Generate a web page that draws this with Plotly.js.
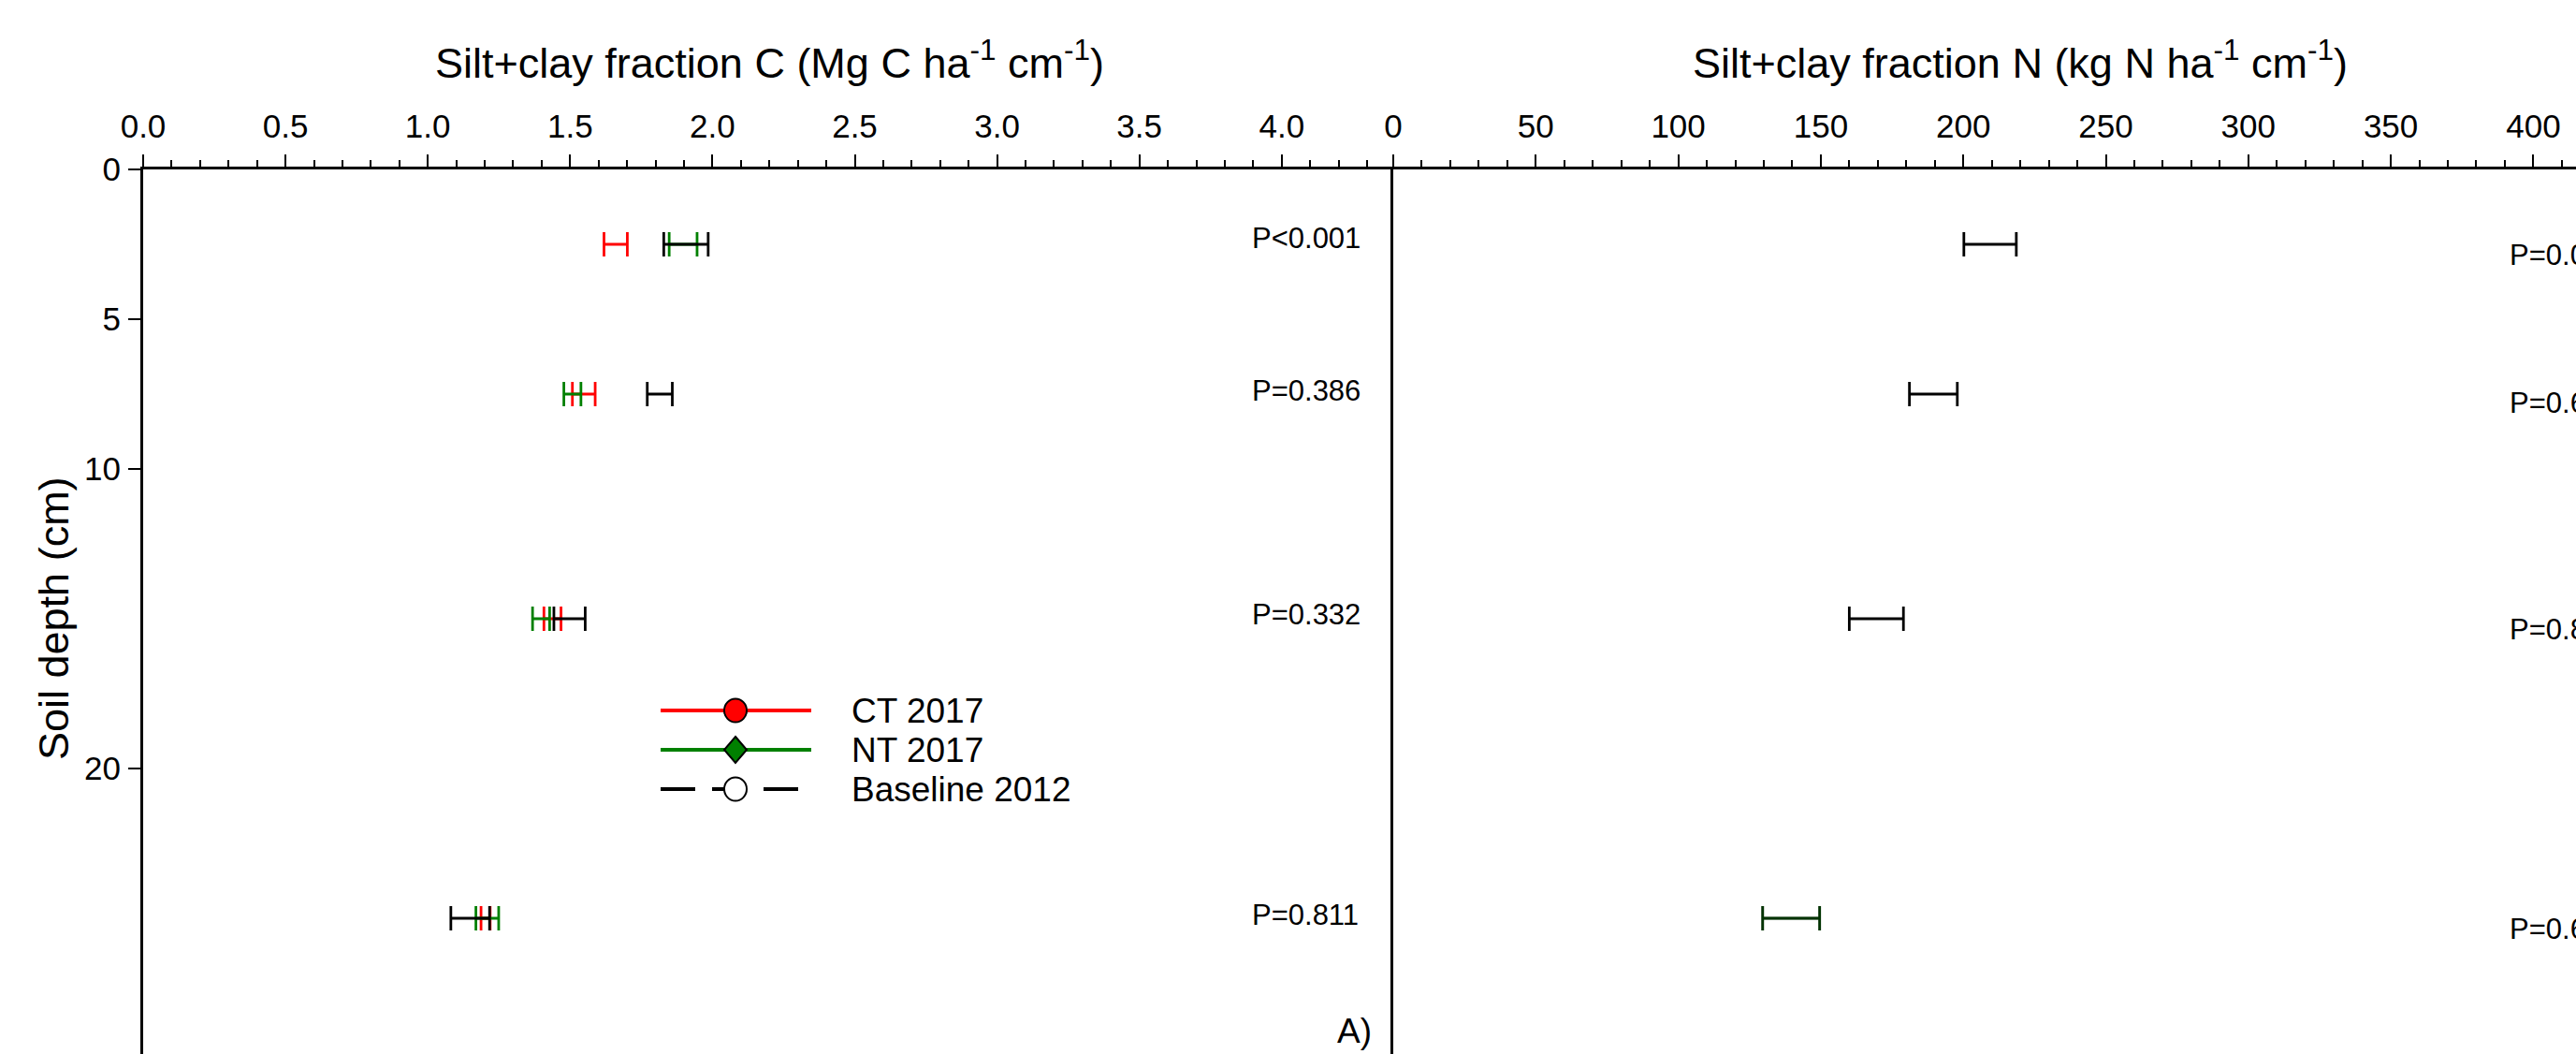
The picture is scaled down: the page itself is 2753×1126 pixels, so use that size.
<!DOCTYPE html>
<html>
<head>
<meta charset="utf-8">
<script src="https://cdn.plot.ly/plotly-3.0.1.min.js"></script>
<style>html,body{margin:0;padding:0;background:#fff;}#chart{width:2753px;height:1126px;}</style>
</head>
<body>
<div id="chart"></div>
<script>
// ---- data ----
const depths = [2.5, 7.5, 15, 25];

const ctC = [1.660, 1.548, 1.438, 1.203];
const ctCErr = [0.041, 0.040, 0.030, 0.016];
const ntC = [1.897, 1.508, 1.398, 1.209];
const ntCErr = [0.049, 0.030, 0.030, 0.040];
const baseC = [1.907, 1.815, 1.498, 1.149];
const baseCErr = [0.078, 0.044, 0.055, 0.068];

const baseN = [209.4, 189.5, 169.5, 139.6];
const baseNErr = [9.2, 8.4, 9.5, 10.0];
const ntN = [null, null, null, 139.6];
const ntNErr = [null, null, null, 10.0];

const pLabelsC = ["P<0.001", "P=0.386", "P=0.332", "P=0.811"];
const pDepthsC = [2.3, 7.4, 14.85, 24.9];
const pLabelsN = ["P=0.0", "P=0.6", "P=0.8", "P=0.6"];
const pDepthsN = [2.85, 7.8, 15.35, 25.35];

const xTicksC = [0, 0.5, 1, 1.5, 2, 2.5, 3, 3.5, 4];
const xTicksN = [0, 50, 100, 150, 200, 250, 300, 350, 400];
const yTicks = [0, 5, 10, 20];

const seriesNames = ["CT 2017", "NT 2017", "Baseline 2012"];
const RED = "rgb(255,0,0)", GREEN = "rgb(0,128,0)", BLACK = "rgb(0,0,0)";

const FONT = "Liberation Sans, Arial, Helvetica, sans-serif";

function ebTrace(x, err, color, xa, ya, name, opacity) {
  return {
    type: "scatter", mode: "markers", x: x, y: depths, name: name,
    xaxis: xa, yaxis: ya, showlegend: false, hoverinfo: "skip",
    opacity: opacity === undefined ? 1 : opacity,
    marker: {size: 2, color: "rgba(0,0,0,0)", line: {width: 0}},
    error_x: {type: "data", array: err, symmetric: true, visible: true,
              color: color, thickness: 2.8, width: 13}
  };
}

const traces = [
  ebTrace(ctC, ctCErr, RED, "x", "y", seriesNames[0]),
  ebTrace(ntC, ntCErr, GREEN, "x", "y", seriesNames[1]),
  ebTrace(baseC, baseCErr, BLACK, "x", "y", seriesNames[2]),
  ebTrace(baseN, baseNErr, BLACK, "x2", "y2", seriesNames[2]),
  ebTrace(ntN, ntNErr, GREEN, "x2", "y2", seriesNames[1], 0.4)
];

// pixel geometry of plot area
const W = 2753, H = 1126, L = 153, T = 181;
const PW = W - L, PH = H - T;
const splitPx = 1489;
const dSplit = (splitPx - L) / PW;
const px = v => (v - L) / PW;
const py = v => (H - v) / PH;

const xAxisCommon = {
  side: "top", showline: true, linewidth: 3, linecolor: BLACK, mirror: false,
  ticks: "outside", ticklen: 13, tickwidth: 2, tickcolor: BLACK,
  showgrid: false, zeroline: false, fixedrange: true,
  tickfont: {family: FONT, size: 35, color: BLACK},
  ticklabelstandoff: 4
};

const layout = {
  width: W, height: H,
  margin: {l: L, r: 0, t: T, b: 0, pad: 0},
  paper_bgcolor: "#fff", plot_bgcolor: "#fff",
  showlegend: false,
  font: {family: FONT, color: BLACK},
  xaxis: Object.assign({}, xAxisCommon, {
    domain: [0, dSplit], range: [0, (splitPx - L) / 304.2], anchor: "y",
    tickmode: "array", tickvals: xTicksC, ticktext: xTicksC.map(v => v.toFixed(1)),
    minor: {dtick: 0.1, tick0: 0, ticks: "outside", ticklen: 7, tickwidth: 2, tickcolor: BLACK}
  }),
  xaxis2: Object.assign({}, xAxisCommon, {
    domain: [dSplit, 1], range: [0, (W - splitPx) / 3.046], anchor: "y2",
    tickmode: "array", tickvals: xTicksN, ticktext: xTicksN.map(String),
    minor: {dtick: 10, tick0: 0, ticks: "outside", ticklen: 7, tickwidth: 2, tickcolor: BLACK}
  }),
  yaxis: {
    domain: [0, 1], range: [PH / 32, 0], anchor: "x",
    showline: true, linewidth: 3, linecolor: BLACK,
    ticks: "outside", ticklen: 13, tickwidth: 2, tickcolor: BLACK,
    tickmode: "array", tickvals: yTicks,
    showgrid: false, zeroline: false, fixedrange: true,
    tickfont: {family: FONT, size: 35, color: BLACK},
    ticklabelstandoff: 1
  },
  yaxis2: {
    domain: [0, 1], range: [PH / 32, 0], anchor: "x2",
    showline: true, linewidth: 3, linecolor: BLACK,
    ticks: "", showticklabels: false,
    showgrid: false, zeroline: false, fixedrange: true
  },
  annotations: [],
  shapes: []
};

const ann = layout.annotations;
ann.push({xref: "x", yref: "paper", x: 2.2, y: py(64), xanchor: "center", yanchor: "middle",
  text: "Silt+clay fraction C (Mg C ha<sup>-1</sup> cm<sup>-1</sup>)", showarrow: false,
  font: {family: FONT, size: 45, color: BLACK}});
ann.push({xref: "x2", yref: "paper", x: 220, y: py(64), xanchor: "center", yanchor: "middle",
  text: "Silt+clay fraction N (kg N ha<sup>-1</sup> cm<sup>-1</sup>)", showarrow: false,
  font: {family: FONT, size: 45, color: BLACK}});
ann.push({xref: "paper", yref: "paper", x: px(57), y: py(660), xanchor: "center", yanchor: "middle",
  text: "Soil depth (cm)", textangle: -90, showarrow: false,
  font: {family: FONT, size: 45, color: BLACK}});
pLabelsC.forEach((t, i) => ann.push({xref: "x", yref: "y", x: 3.89, y: pDepthsC[i],
  xanchor: "left", yanchor: "middle", text: t, showarrow: false,
  font: {family: FONT, size: 31, color: BLACK}}));
pLabelsN.forEach((t, i) => ann.push({xref: "x2", yref: "y2", x: 391, y: pDepthsN[i],
  xanchor: "left", yanchor: "middle", text: t, showarrow: false,
  font: {family: FONT, size: 31, color: BLACK}}));
ann.push({xref: "x", yref: "y", x: 4.323, y: 28.75, xanchor: "right", yanchor: "middle",
  text: "A)", showarrow: false, font: {family: FONT, size: 37, color: BLACK}});

// custom legend
const legY = [759, 801, 843].map(py);
const lx0 = px(706), lx1 = px(867), mx = px(786), tx = px(908);
const sh = layout.shapes;
sh.push({type: "line", xref: "paper", yref: "paper", x0: lx0, x1: lx1, y0: legY[0], y1: legY[0],
  line: {color: RED, width: 4}});
sh.push({type: "line", xref: "paper", yref: "paper", x0: lx0, x1: lx1, y0: legY[1], y1: legY[1],
  line: {color: GREEN, width: 4}});
sh.push({type: "line", xref: "paper", yref: "paper", x0: lx0, x1: px(853), y0: legY[2], y1: legY[2],
  line: {color: BLACK, width: 4, dash: "37px,18px"}});
sh.push({type: "circle", xref: "paper", yref: "paper", xsizemode: "pixel", ysizemode: "pixel",
  xanchor: mx, yanchor: legY[0], x0: -12, x1: 12, y0: -12.5, y1: 12.5,
  fillcolor: RED, line: {color: BLACK, width: 2}});
sh.push({type: "path", xref: "paper", yref: "paper", xsizemode: "pixel", ysizemode: "pixel",
  xanchor: mx, yanchor: legY[1], path: "M0,14 L12,0 L0,-14 L-12,0 Z",
  fillcolor: GREEN, line: {color: BLACK, width: 2}});
sh.push({type: "circle", xref: "paper", yref: "paper", xsizemode: "pixel", ysizemode: "pixel",
  xanchor: mx, yanchor: legY[2], x0: -12, x1: 12, y0: -12.5, y1: 12.5,
  fillcolor: "#fff", line: {color: BLACK, width: 2}});
seriesNames.forEach((n, i) => ann.push({xref: "paper", yref: "paper", x: tx, y: legY[i],
  xanchor: "left", yanchor: "middle", text: n, showarrow: false,
  font: {family: FONT, size: 37, color: BLACK}}));

Plotly.newPlot("chart", traces, layout, {displayModeBar: false, staticPlot: true});
</script>
</body>
</html>
